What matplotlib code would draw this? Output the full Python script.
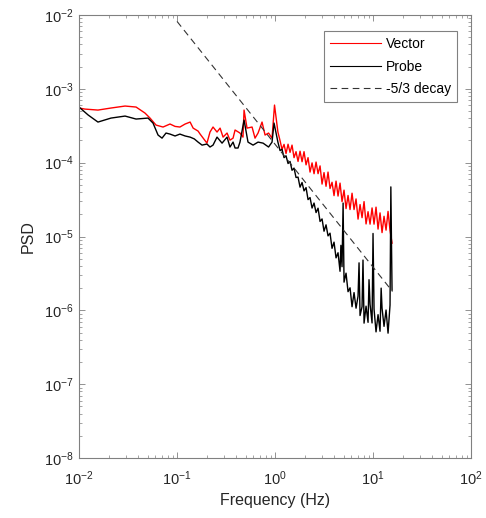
import matplotlib
matplotlib.use("Agg")
import matplotlib.pyplot as plt
from matplotlib.ticker import LogLocator, NullFormatter

plt.rcParams['font.family'] = ['Liberation Sans', 'DejaVu Sans']
plt.rcParams['mathtext.fontset'] = 'custom'
plt.rcParams['mathtext.rm'] = 'Liberation Sans'
plt.rcParams['mathtext.default'] = 'regular'

# Vector spectrum, low/mid frequencies
vec_freq_lo = [0.0100, 0.0115, 0.0156, 0.0212, 0.0295, 0.0382, 0.0471, 0.0530, 0.0611, 0.0720,
               0.0848, 0.0955, 0.107, 0.121, 0.136, 0.146, 0.164, 0.172, 0.202, 0.217,
               0.233, 0.256, 0.275, 0.295, 0.324, 0.347, 0.373, 0.391, 0.439, 0.471,
               0.483, 0.518, 0.583, 0.625, 0.671, 0.737, 0.791, 0.859, 0.932, 0.988, 1.07]
vec_psd_lo = [5.50e-4, 5.32e-4, 5.16e-4, 5.50e-4, 5.85e-4, 5.67e-4, 4.70e-4, 4.02e-4, 3.23e-4, 3.04e-4,
              3.34e-4, 3.10e-4, 3.04e-4, 3.34e-4, 3.55e-4, 2.94e-4, 2.68e-4, 2.44e-4, 1.84e-4, 2.60e-4,
              3.04e-4, 2.60e-4, 2.94e-4, 2.22e-4, 2.52e-4, 2.02e-4, 2.15e-4, 2.77e-4, 2.52e-4, 2.22e-4,
              5.16e-4, 2.94e-4, 3.04e-4, 2.15e-4, 2.52e-4, 3.55e-4, 2.37e-4, 2.52e-4, 2.15e-4, 6.03e-4, 2.60e-4]

# frequencies of the dense high-frequency part (1.1 - 15.6 Hz)
hf_freq = [1.125, 1.179, 1.236, 1.295, 1.358, 1.423, 1.491, 1.563, 1.638, 1.717,
           1.800, 1.887, 1.977, 2.073, 2.172, 2.277, 2.387, 2.501, 2.622, 2.748,
           2.880, 3.019, 3.162, 3.315, 3.474, 3.641, 3.817, 4.000, 4.193, 4.395,
           4.606, 4.828, 5.060, 5.304, 5.559, 5.827, 6.107, 6.401, 6.710, 7.033,
           7.371, 7.726, 8.098, 8.488, 8.896, 9.325, 9.773, 10.24, 10.73, 11.25,
           11.79, 12.36, 12.95, 13.58, 14.23, 14.91, 15.63]

vec_psd_hi = [1.99e-4, 1.51e-4, 1.77e-4, 1.33e-4, 1.78e-4, 1.38e-4, 1.73e-4, 1.17e-4, 1.41e-4, 1.04e-4,
              1.43e-4, 1.03e-4, 1.41e-4, 9.35e-5, 1.17e-4, 7.46e-5, 9.94e-5, 7.09e-5, 1.02e-4, 7.10e-5,
              9.05e-5, 5.13e-5, 7.34e-5, 4.79e-5, 7.46e-5, 4.47e-5, 5.43e-5, 3.58e-5, 5.63e-5, 3.53e-5,
              5.29e-5, 2.97e-5, 4.25e-5, 2.39e-5, 3.60e-5, 2.32e-5, 3.86e-5, 2.32e-5, 3.23e-5, 1.72e-5,
              2.71e-5, 1.80e-5, 2.97e-5, 1.48e-5, 2.17e-5, 1.47e-5, 2.44e-5, 1.47e-5, 2.50e-5, 1.26e-5,
              2.09e-5, 1.13e-5, 1.88e-5, 1.22e-5, 2.19e-5, 1.21e-5, 8.14e-6]

# Probe spectrum, low/mid frequencies
prb_freq_lo = [0.0100, 0.0124, 0.0156, 0.0212, 0.0295, 0.0382, 0.0506, 0.0569, 0.0640, 0.0703,
               0.0772, 0.0848, 0.0955, 0.107, 0.121, 0.136, 0.150, 0.164, 0.180, 0.202,
               0.217, 0.233, 0.256, 0.288, 0.324, 0.347, 0.373, 0.391, 0.419, 0.439,
               0.483, 0.530, 0.597, 0.671, 0.755, 0.859, 0.932, 0.977, 1.07]
prb_psd_lo = [5.67e-4, 4.42e-4, 3.55e-4, 4.02e-4, 4.28e-4, 3.90e-4, 4.02e-4, 3.44e-4, 2.37e-4, 2.15e-4,
              2.52e-4, 2.44e-4, 2.30e-4, 2.44e-4, 2.30e-4, 2.22e-4, 2.10e-4, 1.90e-4, 1.73e-4, 1.79e-4,
              1.63e-4, 1.73e-4, 2.22e-4, 1.84e-4, 2.22e-4, 1.63e-4, 1.90e-4, 1.58e-4, 1.58e-4, 1.90e-4,
              3.78e-4, 1.90e-4, 1.73e-4, 1.90e-4, 1.84e-4, 1.63e-4, 1.90e-4, 3.44e-4, 1.90e-4]
prb_psd_hi = [1.46e-4, 1.52e-4, 1.17e-4, 1.24e-4, 9.74e-5, 1.04e-4, 7.89e-5, 8.45e-5, 6.30e-5, 6.38e-5,
              4.66e-5, 5.39e-5, 4.15e-5, 4.60e-5, 3.16e-5, 3.37e-5, 2.43e-5, 2.84e-5, 2.11e-5, 2.42e-5,
              1.60e-5, 1.73e-5, 1.18e-5, 1.44e-5, 1.02e-5, 1.11e-5, 6.92e-6, 8.39e-6, 5.14e-6, 6.03e-6,
              3.38e-6, 3.90e-6, 2.41e-6, 3.19e-6, 1.79e-6, 2.02e-6, 1.12e-6, 1.74e-6, 1.07e-6, 1.56e-6,
              8.51e-7, 1.12e-6, 6.71e-7, 1.14e-6, 6.88e-7, 1.21e-6, 6.75e-7, 1.04e-6, 5.11e-7, 8.74e-7,
              5.21e-7, 1.07e-6, 6.07e-7, 1.01e-6, 4.91e-7, 1.18e-6, 1.88e-6]

# narrow spectral spikes of the Probe
spike_freq = [4.70, 4.95, 7.20, 7.90, 9.10, 10.0, 12.1, 15.2]
spike_psd = [7.6e-6, 2.84e-5, 4.4e-6, 4.8e-6, 2.6e-6, 1.1e-5, 2.0e-6, 4.7e-5]

# -5/3 reference line end points
ref_freq = [0.1, 15.8]
ref_psd = [8.2e-3, 1.8e-6]

# merge spikes into the probe high-frequency series (sorted by frequency)
prb_pts = sorted(list(zip(hf_freq, prb_psd_hi)) + list(zip(spike_freq, spike_psd)))
prb_freq_hi = [p[0] for p in prb_pts]
prb_psd_hi2 = [p[1] for p in prb_pts]

fig = plt.figure(figsize=(4.86, 5.18), dpi=100)
ax = fig.add_axes([0.1626, 0.1158, 0.8066, 0.8552])

ax.loglog(vec_freq_lo + hf_freq, vec_psd_lo + vec_psd_hi, color='#ff0000', lw=1.0, label='Vector')
ax.loglog(prb_freq_lo + prb_freq_hi, prb_psd_lo + prb_psd_hi2, color='k', lw=1.0, label='Probe')
ax.loglog(ref_freq, ref_psd, color='#333333', lw=0.8, dashes=(6, 4), label='-5/3 decay')

ax.set_xlim(1e-2, 1e2)
ax.set_ylim(1e-8, 1e-2)
ax.xaxis.set_major_locator(LogLocator(base=10, numticks=10))
ax.yaxis.set_major_locator(LogLocator(base=10, numticks=10))
ax.xaxis.set_minor_locator(LogLocator(base=10, subs=range(2, 10), numticks=20))
ax.yaxis.set_minor_locator(LogLocator(base=10, subs=range(2, 10), numticks=20))
ax.xaxis.set_minor_formatter(NullFormatter())
ax.yaxis.set_minor_formatter(NullFormatter())
ax.xaxis.get_offset_text().set_visible(False)
ax.yaxis.get_offset_text().set_visible(False)

ax.tick_params(which='both', direction='in', top=True, right=True, colors='#808080',
               labelcolor='#262626', labelsize=10.5)
ax.tick_params(which='major', length=4, width=0.6)
ax.tick_params(which='minor', length=2, width=0.5)
ax.tick_params(axis='x', which='major', pad=8)
ax.tick_params(axis='y', which='major', pad=4)
for s in ax.spines.values():
    s.set_color('#808080')
    s.set_linewidth(0.8)

ax.set_xlabel('Frequency (Hz)', fontsize=11.5, color='#262626', labelpad=4)
ax.set_ylabel('PSD', fontsize=11.5, color='#262626', labelpad=6)

leg = ax.legend(loc='upper right', bbox_to_anchor=(0.964, 0.964), borderaxespad=0,
                fontsize=10, fancybox=False, framealpha=1, edgecolor='#808080',
                handlelength=3.7, borderpad=0.45, labelspacing=0.6, handletextpad=0.3)
leg.get_frame().set_linewidth(0.8)
for line in leg.get_lines():
    line.set_linewidth(0.8)

fig.savefig('out.png', dpi=100)
